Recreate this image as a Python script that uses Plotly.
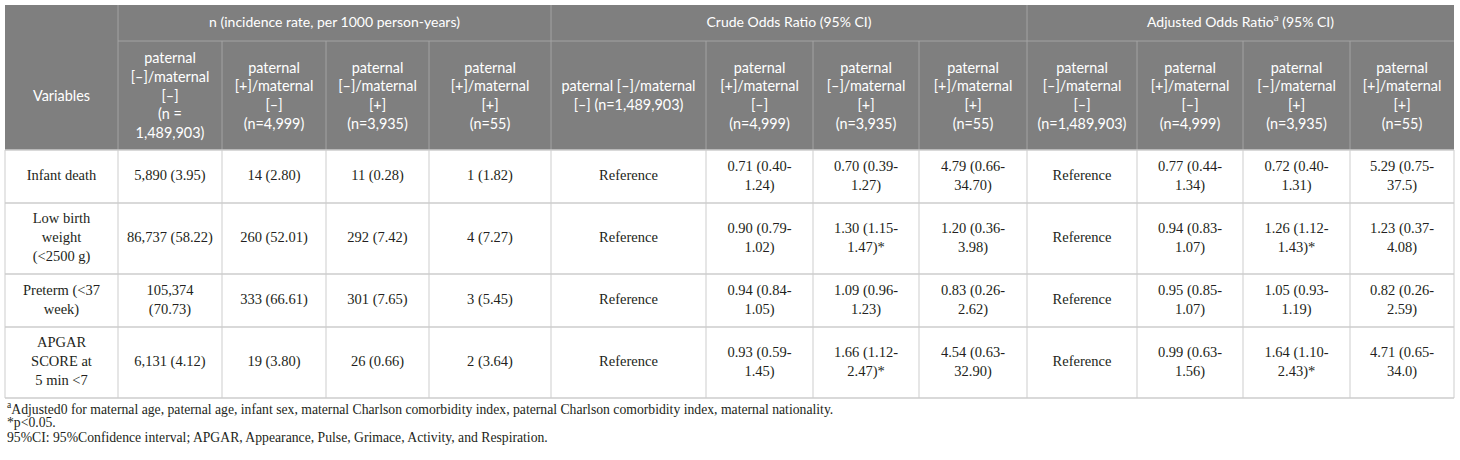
import plotly.graph_objects as go

# ---- table content ----
variables = ["Infant death", "Low birth<br>weight<br>(&lt;2500 g)",
             "Preterm (&lt;37<br>week)", "APGAR<br>SCORE at<br>5 min &lt;7"]

paternal = ["[–]", "[+]", "[–]", "[+]"]
maternal = ["[–]", "[–]", "[+]", "[+]"]
group_n = [1489903, 4999, 3935, 55]

blocks = ["n (incidence rate, per 1000 person-years)",
          "Crude Odds Ratio (95% CI)",
          "Adjusted Odds Ratio<sup>a</sup> (95% CI)"]

# n cases and incidence rate per 1000 person-years
cases = [[5890, 14, 11, 1],
         [86737, 260, 292, 4],
         [105374, 333, 301, 3],
         [6131, 19, 26, 2]]
rates = [[3.95, 2.80, 0.28, 1.82],
         [58.22, 52.01, 7.42, 7.27],
         [70.73, 66.61, 7.65, 5.45],
         [4.12, 3.80, 0.66, 3.64]]

# odds ratios vs reference group (paternal [-]/maternal [-])
crude_or = [["0.71 (0.40-1.24)", "0.70 (0.39-1.27)", "4.79 (0.66-34.70)"],
            ["0.90 (0.79-1.02)", "1.30 (1.15-1.47)", "1.20 (0.36-3.98)"],
            ["0.94 (0.84-1.05)", "1.09 (0.96-1.23)", "0.83 (0.26-2.62)"],
            ["0.93 (0.59-1.45)", "1.66 (1.12-2.47)", "4.54 (0.63-32.90)"]]
crude_sig = [[0, 0, 0], [0, 1, 0], [0, 0, 0], [0, 1, 0]]

adj_or = [["0.77 (0.44-1.34)", "0.72 (0.40-1.31)", "5.29 (0.75-37.5)"],
          ["0.94 (0.83-1.07)", "1.26 (1.12-1.43)", "1.23 (0.37-4.08)"],
          ["0.95 (0.85-1.07)", "1.05 (0.93-1.19)", "0.82 (0.26-2.59)"],
          ["0.99 (0.63-1.56)", "1.64 (1.10-2.43)", "4.71 (0.65-34.0)"]]
adj_sig = [[0, 0, 0], [0, 1, 0], [0, 0, 0], [0, 1, 0]]

footnotes = ["<sup>a</sup>Adjusted0 for maternal age, paternal age, infant sex, maternal Charlson "
             "comorbidity index, paternal Charlson comorbidity index, maternal nationality.",
             "*p&lt;0.05.",
             "95%CI: 95%Confidence interval; APGAR, Appearance, Pulse, Grimace, Activity, and Respiration."]

# ---- layout of the grid (pixels) ----
W, H = 1460, 460
X0, Y0 = 5, 5
col_w = [113, 104, 104, 103, 122, 155, 107, 106, 108, 110, 106, 107, 104]
row_h = [36, 109, 53, 71, 53, 71]

xe = [X0]
for w in col_w:
    xe.append(xe[-1] + w)
ye = [Y0]
for h in row_h:
    ye.append(ye[-1] + h)
xc = [(xe[i] + xe[i + 1]) / 2 for i in range(len(col_w))]
yc = [(ye[i] + ye[i + 1]) / 2 for i in range(len(row_h))]

HEAD_BG = "#7f7f7f"
HEAD_LINE = "#a3a3a3"
BODY_LINE = "#cdcdcd"
TXT = "#231f20"
SANS = "Lato"
SERIF = "Liberation Serif"


def group_label(i, style):
    n = f"{group_n[i]:,}"
    if style == "wide":
        return f"paternal {paternal[i]}/maternal<br>{maternal[i]} (n={n})"
    if style == "split":
        return f"paternal<br>{paternal[i]}/maternal<br>{maternal[i]}<br>(n =<br>{n})"
    return f"paternal<br>{paternal[i]}/maternal<br>{maternal[i]}<br>(n={n})"


def ncell(c, r):
    s = f"{c:,} ({r:.2f})"
    return s.replace(" ", "<br>") if len(s) > 14 else s


def orcell(s, sig):
    s = s.replace("-", "-<br>")
    return s + ("*" if sig else "")


sub_head = (["Variables"]
            + [group_label(0, "split")] + [group_label(i, "") for i in range(1, 4)]
            + [group_label(0, "wide")] + [group_label(i, "") for i in range(1, 4)]
            + [group_label(i, "") for i in range(4)])

body_x, body_y, body_t = [], [], []
for r in range(len(variables)):
    row = ([variables[r]]
           + [ncell(cases[r][j], rates[r][j]) for j in range(4)]
           + ["Reference"] + [orcell(crude_or[r][j], crude_sig[r][j]) for j in range(3)]
           + ["Reference"] + [orcell(adj_or[r][j], adj_sig[r][j]) for j in range(3)])
    for c, t in enumerate(row):
        body_x.append(xc[c])
        body_y.append(yc[r + 2])
        body_t.append(t)

fig = go.Figure()

# block headers spanning 4 columns each
fig.add_trace(go.Scatter(
    x=[(xe[1] + xe[5]) / 2, (xe[5] + xe[9]) / 2, (xe[9] + xe[13]) / 2],
    y=[yc[0]] * 3, text=blocks, mode="text", textposition="middle center",
    textfont=dict(family=SANS, size=14, color="white"), hoverinfo="skip"))

# group sub headers
fig.add_trace(go.Scatter(
    x=xc, y=[yc[1] + 1.5] * len(xc), text=sub_head, mode="text", textposition="middle center",
    textfont=dict(family=SANS, size=14.4, color="white"), hoverinfo="skip"))

# body cells
fig.add_trace(go.Scatter(
    x=body_x, y=body_y, text=body_t, mode="text", textposition="middle center",
    textfont=dict(family=SERIF, size=14.5, color=TXT), hoverinfo="skip"))

# grid: header background + lines
shapes = [dict(type="rect", x0=xe[0], x1=xe[-1], y0=ye[0], y1=ye[2],
               fillcolor=HEAD_BG, line_width=0, layer="below")]
shapes.append(dict(type="line", x0=xe[1], x1=xe[-1], y0=ye[1], y1=ye[1],
                   line=dict(color=HEAD_LINE, width=1)))
for i, x in enumerate(xe[1:-1], start=1):
    top = ye[0] if i in (1, 5, 9) else ye[1]
    shapes.append(dict(type="line", x0=x, x1=x, y0=top, y1=ye[2],
                       line=dict(color=HEAD_LINE, width=1)))
for x in xe:
    shapes.append(dict(type="line", x0=x, x1=x, y0=ye[2], y1=ye[-1],
                       line=dict(color=BODY_LINE, width=1)))
for y in ye[2:]:
    shapes.append(dict(type="line", x0=xe[0], x1=xe[-1], y0=y, y1=y,
                       line=dict(color=BODY_LINE, width=1.5)))

for k, note in enumerate(footnotes):
    fig.add_annotation(x=xe[0], y=ye[-1] + 9.5 + 15 * k, text=note, showarrow=False,
                       xanchor="left", yanchor="middle",
                       font=dict(family=SERIF, size=13.7, color=TXT))

fig.update_layout(
    width=W, height=H, margin=dict(l=0, r=0, t=0, b=0),
    paper_bgcolor="white", plot_bgcolor="white", showlegend=False,
    shapes=shapes,
    xaxis=dict(range=[0, W], visible=False, fixedrange=True),
    yaxis=dict(range=[H, 0], visible=False, fixedrange=True),
)

# page body has a default margin; drop it so the table sits at the window edge
fig.write_html("out.html", config={"displayModeBar": False},
               post_script="document.body.style.margin='0';")
